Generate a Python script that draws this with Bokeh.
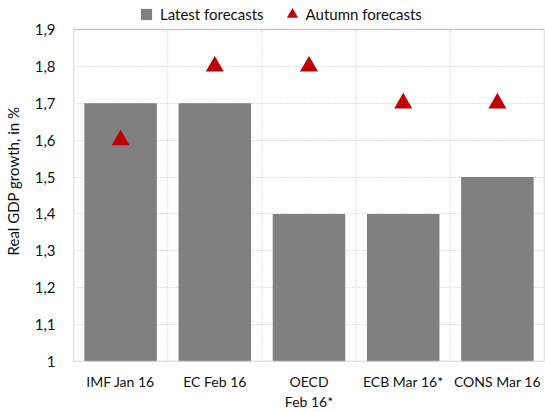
from bokeh.plotting import figure
from bokeh.models import (FactorRange, Range1d, FixedTicker, CustomJSTickFormatter,
                          Legend, LegendItem, ColumnDataSource)
from bokeh.transform import dodge
from bokeh.embed import file_html
from bokeh.resources import INLINE

categories = ["IMF Jan 16", "EC Feb 16", "OECD\nFeb 16*", "ECB Mar 16*", "CONS Mar 16"]
latest = [1.7, 1.7, 1.4, 1.4, 1.5]
autumn = [1.6, 1.8, 1.8, 1.7, 1.7]
y_ticks = [1.0, 1.1, 1.2, 1.3, 1.4, 1.5, 1.6, 1.7, 1.8, 1.9]
series_names = ["Latest forecasts", "Autumn forecasts"]

FONT = "Lato"
TEXT_COLOR = "#111111"
BAR_COLOR = "#808080"
TRI_COLOR = "#c00000"
FRAME_COLOR = "#c8c8c8"

# layout: plot box spans 1..1.9 over 333 px; 29 px of headroom above it for the legend
PX_PER_UNIT = 333 / (y_ticks[-1] - y_ticks[0])
Y_TOP = y_ticks[-1] + 29 / PX_PER_UNIT

src = ColumnDataSource(dict(cat=categories, latest=latest, autumn=autumn))

p = figure(width=545, height=412,
           x_range=FactorRange(*categories, factor_padding=0, range_padding=0),
           y_range=Range1d(y_ticks[0], Y_TOP),
           output_backend="svg", toolbar_location=None,
           min_border_left=69, min_border_right=1, min_border_top=0,
           min_border_bottom=50)

p.background_fill_color = "white"
p.border_fill_color = "white"
p.outline_line_color = None

# category boundary grid lines (right edge of each category but the last)
bsrc = ColumnDataSource(dict(cat=categories[:-1],
                             y0=[y_ticks[0]] * (len(categories) - 1),
                             y1=[y_ticks[-1]] * (len(categories) - 1)))
p.segment(x0=dodge("cat", 0.5, range=p.x_range), x1=dodge("cat", 0.5, range=p.x_range),
          y0="y0", y1="y1", source=bsrc,
          line_color="#c0c0c0", line_dash="1 2", line_width=1)

bars = p.vbar(x="cat", top="latest", bottom=y_ticks[0], width=0.77, source=src,
              fill_color=BAR_COLOR, line_color=None)
tri = p.scatter(x="cat", y="autumn", source=src, marker="triangle", size=18,
                fill_color=TRI_COLOR, line_color=None)
# legend-only square marker (placed below the visible range)
sq = p.scatter(x=[categories[0]], y=[0], marker="square", fill_color=BAR_COLOR,
               line_color=None)

# plot box border (1 .. 1.9, first to last category edge)
fsrc = ColumnDataSource(dict(l=[categories[0]], r=[categories[-1]],
                             b=[y_ticks[0]], t=[y_ticks[-1]]))
p.quad(left=dodge("l", -0.5, range=p.x_range), right=dodge("r", 0.5, range=p.x_range),
       bottom="b", top="t", source=fsrc, fill_color=None,
       line_color=FRAME_COLOR, line_width=1.5)

# grid
p.xgrid.visible = False
p.ygrid.ticker = FixedTicker(ticks=y_ticks)
p.ygrid.grid_line_color = "#c0c0c0"
p.ygrid.grid_line_dash = "1 2"
p.ygrid.grid_line_width = 1

# axes
p.yaxis.ticker = FixedTicker(ticks=y_ticks)
p.yaxis.formatter = CustomJSTickFormatter(
    code="const s = (Math.round(tick*10)/10).toString(); return s.replace('.', ',');")
p.yaxis.axis_label = "Real GDP growth, in %"
p.yaxis.axis_label_text_font = FONT
p.yaxis.axis_label_text_font_size = "15px"
p.yaxis.axis_label_text_font_style = "normal"
p.yaxis.axis_label_text_color = TEXT_COLOR
p.yaxis.axis_label_standoff = 10
for ax in (p.xaxis[0], p.yaxis[0]):
    ax.axis_line_color = None
    ax.major_tick_line_color = None
    ax.minor_tick_line_color = None
    ax.major_label_text_font = FONT
    ax.major_label_text_font_size = "15px"
    ax.major_label_text_color = TEXT_COLOR
p.xaxis.major_label_text_font_size = "14px"
p.yaxis.major_label_standoff = 12
p.xaxis.major_label_standoff = 5

legend = Legend(items=[LegendItem(label=series_names[0], renderers=[sq]),
                       LegendItem(label=series_names[1], renderers=[tri])],
                orientation="horizontal", location=(59, 333),
                glyph_width=28, glyph_height=28, label_standoff=-6, spacing=14,
                padding=0, margin=0, border_line_color=None,
                background_fill_alpha=0,
                label_text_font=FONT, label_text_font_size="15px",
                label_text_color=TEXT_COLOR)
p.add_layout(legend, "center")

open("out.html", "w").write(file_html(p, INLINE))
